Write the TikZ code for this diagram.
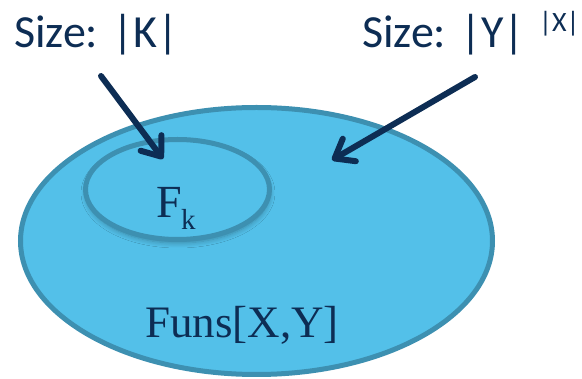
\documentclass[tikz,border=0pt]{standalone}
\usepackage{fontspec}
\setmainfont{Liberation Serif}
\newfontfamily\calib{Carlito}
\usetikzlibrary{arrows.meta,shadows.blur}
\definecolor{fillblue}{HTML}{53C0E9}
\definecolor{edgeblue}{HTML}{3D90B1}
\definecolor{navy}{HTML}{0D2D54}
\tikzset{
  setshape/.style={draw=edgeblue, fill=fillblue, line width=5pt},
  lbl/.style={text=navy, inner sep=0pt},
  arr/.style={draw=navy, line width=6pt, line cap=round, -{Straight Barb[length=17pt,width=26pt,line width=6pt,round]}}
}
\begin{document}
\begin{tikzpicture}[x=1pt,y=-1pt]
\useasboundingbox (0,0) rectangle (582,379);
\draw[setshape] (256.5,241) ellipse [x radius=236, y radius=133.5];
\draw[setshape, blur shadow={shadow xshift=0.5pt, shadow yshift=-3.5pt, shadow blur radius=5pt, shadow blur steps=8, shadow opacity=30}] (177.5,189.5) ellipse [x radius=92, y radius=50];
\node[lbl, font=\fontsize{46}{46}\selectfont, anchor=base west] (fk) at (156,218) {F};
\node[lbl, font=\fontsize{29}{29}\selectfont, anchor=base west] (kk) at (181,230) {k};
\node[lbl, font=\fontsize{45}{45}\selectfont, anchor=base] (funs) at (242,338) {Funs[X,Y]};
\node[lbl, font=\calib\fontsize{46}{46}\selectfont, anchor=base west] (sk) at (14,48) {Size: |K|};
\node[lbl, font=\calib\fontsize{46}{46}\selectfont, anchor=base west] (sy) at (362,48) {Size: |Y|};
\node[lbl, font=\calib\fontsize{28}{28}\selectfont, anchor=base west] (sx) at (539,32) {|X|};
\coordinate (a1s) at (101,76);
\coordinate (a1e) at (163,159);
\coordinate (a2s) at (475,77);
\coordinate (a2e) at (332,160);
\draw[arr] (a1s) -- (a1e);
\draw[arr] (a2s) -- (a2e);
\end{tikzpicture}
\end{document}
